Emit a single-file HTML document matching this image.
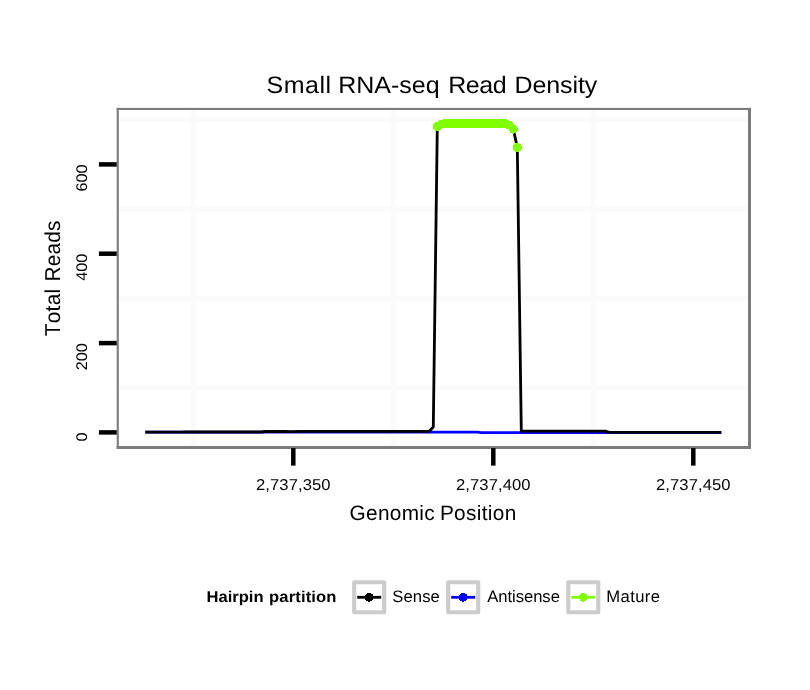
<!DOCTYPE html>
<html lang="en">
<head>
<meta charset="utf-8">
<title>Small RNA-seq Read Density</title>
<style>
html,body{margin:0;padding:0;background:#fff;}
body{width:810px;height:690px;overflow:hidden;}
svg{display:block;}
svg text{font-family:"Liberation Sans",sans-serif;fill:#000;font-kerning:none;white-space:pre;text-rendering:geometricPrecision;}
.axt text{font-size:16.6px;}
.ttl{font-size:25px;}
.axl{font-size:20.8px;}
.lgt{font-size:16.6px;font-weight:bold;}
.lgx{font-size:16.6px;}
</style>
</head>
<body>
<svg width="810" height="690" viewBox="0 0 810 690">
<rect x="0" y="0" width="810" height="690" fill="#fff"/>
<text class="ttl" transform="translate(0,92.7) scale(1,0.95)"><tspan x="266.44" letter-spacing="0.514">Small </tspan><tspan x="338.20" letter-spacing="-0.007">RNA-seq </tspan><tspan x="448.19" letter-spacing="-0.453">Read </tspan><tspan x="514.43" letter-spacing="-0.083">Density</tspan></text>
<g stroke="#fafafa" stroke-width="4.7"><line x1="118" x2="750" y1="387.7" y2="387.7"/><line x1="118" x2="750" y1="298.4" y2="298.4"/><line x1="118" x2="750" y1="209.1" y2="209.1"/><line x1="118" x2="750" y1="119.7" y2="119.7"/><line y1="109" y2="447" x1="193.3" x2="193.3"/><line y1="109" y2="447" x1="393.3" x2="393.3"/><line y1="109" y2="447" x1="593.3" x2="593.3"/></g>
<polyline points="145.3,432.2 149.3,432.2 153.3,432.2 157.3,432.2 161.3,432.2 165.3,432.2 169.3,432.2 173.3,432.2 177.3,432.2 181.3,432.2 185.3,432.2 189.3,432.2 193.3,432.2 197.3,432.2 201.3,432.2 205.3,432.2 209.3,432.2 213.3,432.2 217.3,432.2 221.3,432.2 225.3,432.2 229.3,432.2 233.3,432.2 237.3,432.2 241.3,432.2 245.3,432.2 249.3,432.2 253.3,432.2 257.3,432.2 261.3,432.2 265.3,432.2 269.3,432.2 273.3,432.2 277.3,432.2 281.3,432.2 285.3,432.2 289.3,432.2 293.3,432.2 297.3,432.2 301.3,432.2 305.3,432.2 309.3,432.2 313.3,432.2 317.3,432.2 321.3,432.2 325.3,432.2 329.3,432.2 333.3,432.2 337.3,432.2 341.3,432.2 345.3,432.2 349.3,432.2 353.3,432.2 357.3,432.2 361.3,432.2 365.3,432.2 369.3,432.2 373.3,432.2 377.3,432.2 381.3,432.2 385.3,432.2 389.3,432.2 393.3,432.2 397.3,432.2 401.3,432.2 405.3,432.2 409.3,432.2 413.3,432.2 417.3,432.2 421.3,432.2 425.3,432.2 429.3,432.2 433.3,432.2 437.3,432.2 441.3,432.2 445.3,432.2 449.3,432.2 453.3,432.2 457.3,432.2 461.3,432.2 465.3,432.2 469.3,432.2 473.3,432.2 477.3,432.2 481.3,432.6 485.3,432.6 489.3,432.6 493.3,432.6 497.3,432.6 501.3,432.6 505.3,432.6 509.3,432.6 513.3,432.6 517.3,432.6 521.3,432.6 525.3,432.6 529.3,432.6 533.3,432.6 537.3,432.6 541.3,432.6 545.3,432.6 549.3,432.6 553.3,432.6 557.3,432.6 561.3,432.6 565.3,432.6 569.3,432.6 573.3,432.6 577.3,432.6 581.3,432.6 585.3,432.6 589.3,432.6 593.3,432.6 597.3,432.6 601.3,432.6 605.3,432.6 609.3,432.6 613.3,432.6 617.3,432.6 621.3,432.6 625.3,432.6 629.3,432.6 633.3,432.6 637.3,432.6 641.3,432.6 645.3,432.6 649.3,432.6 653.3,432.6 657.3,432.6 661.3,432.6 665.3,432.6 669.3,432.6 673.3,432.6 677.3,432.6 681.3,432.6 685.3,432.6 689.3,432.6 693.3,432.6 697.3,432.6 701.3,432.6 705.3,432.6 709.3,432.6 713.3,432.6 717.3,432.6 721.3,432.6" fill="none" stroke="#0000ff" stroke-width="2.8" stroke-linejoin="round"/>
<polyline points="145.3,432.2 149.3,432.2 153.3,432.2 157.3,432.2 161.3,432.2 165.3,432.2 169.3,432.2 173.3,432.2 177.3,432.2 181.3,432.2 185.3,432.0 189.3,432.0 193.3,432.0 197.3,432.0 201.3,432.0 205.3,432.0 209.3,432.0 213.3,432.0 217.3,432.0 221.3,432.0 225.3,432.0 229.3,432.0 233.3,432.0 237.3,432.0 241.3,432.0 245.3,432.0 249.3,432.0 253.3,432.0 257.3,432.0 261.3,432.0 265.3,431.5 269.3,431.5 273.3,431.5 277.3,431.5 281.3,431.5 285.3,431.5 289.3,431.7 293.3,431.7 297.3,431.3 301.3,431.3 305.3,431.3 309.3,431.3 313.3,431.3 317.3,431.3 321.3,431.3 325.3,431.3 329.3,431.3 333.3,431.3 337.3,431.3 341.3,431.3 345.3,431.3 349.3,431.3 353.3,431.3 357.3,431.3 361.3,431.3 365.3,431.3 369.3,431.3 373.3,431.3 377.3,431.3 381.3,431.3 385.3,431.3 389.3,431.3 393.3,431.3 397.3,431.3 401.3,431.3 405.3,431.3 409.3,431.3 413.3,431.3 417.3,431.3 421.3,431.3 425.3,431.3 429.3,431.3 433.3,427.0 437.3,126.4 441.3,124.2 445.3,123.5 449.3,123.5 453.3,123.5 457.3,123.5 461.3,123.5 465.3,123.5 469.3,123.5 473.3,123.5 477.3,123.5 481.3,123.5 485.3,123.5 489.3,123.5 493.3,123.5 497.3,123.5 501.3,123.5 505.3,123.5 509.3,125.1 513.3,129.1 517.3,147.4 521.3,431.1 525.3,431.1 529.3,431.1 533.3,431.1 537.3,431.1 541.3,431.1 545.3,431.1 549.3,431.1 553.3,431.1 557.3,431.1 561.3,431.1 565.3,431.1 569.3,431.1 573.3,431.1 577.3,431.1 581.3,431.1 585.3,431.1 589.3,431.1 593.3,431.1 597.3,431.1 601.3,431.1 605.3,431.1 609.3,432.4 613.3,432.4 617.3,432.4 621.3,432.4 625.3,432.4 629.3,432.4 633.3,432.4 637.3,432.4 641.3,432.4 645.3,432.4 649.3,432.4 653.3,432.4 657.3,432.4 661.3,432.4 665.3,432.4 669.3,432.4 673.3,432.4 677.3,432.4 681.3,432.4 685.3,432.4 689.3,432.4 693.3,432.4 697.3,432.4 701.3,432.4 705.3,432.4 709.3,432.4 713.3,432.4 717.3,432.4 721.3,432.4" fill="none" stroke="#000" stroke-width="2.8" stroke-linejoin="round"/>
<g fill="#7fff00" shape-rendering="crispEdges"><circle cx="437.3" cy="126.4" r="4.5"/><circle cx="441.3" cy="124.2" r="4.5"/><circle cx="445.3" cy="123.5" r="4.5"/><circle cx="449.3" cy="123.5" r="4.5"/><circle cx="453.3" cy="123.5" r="4.5"/><circle cx="457.3" cy="123.5" r="4.5"/><circle cx="461.3" cy="123.5" r="4.5"/><circle cx="465.3" cy="123.5" r="4.5"/><circle cx="469.3" cy="123.5" r="4.5"/><circle cx="473.3" cy="123.5" r="4.5"/><circle cx="477.3" cy="123.5" r="4.5"/><circle cx="481.3" cy="123.5" r="4.5"/><circle cx="485.3" cy="123.5" r="4.5"/><circle cx="489.3" cy="123.5" r="4.5"/><circle cx="493.3" cy="123.5" r="4.5"/><circle cx="497.3" cy="123.5" r="4.5"/><circle cx="501.3" cy="123.5" r="4.5"/><circle cx="505.3" cy="123.5" r="4.5"/><circle cx="509.3" cy="125.1" r="4.5"/><circle cx="513.3" cy="129.1" r="4.5"/><circle cx="517.3" cy="147.4" r="4.5"/></g>
<g fill="#7c7c7c"><rect x="116.7" y="107.9" width="634.3" height="2.1"/><rect x="116.7" y="107.9" width="2.1" height="341.1"/><rect x="748" y="107.9" width="3" height="341.1"/><rect x="116.7" y="446" width="634.3" height="3"/></g>
<g stroke="#000" stroke-width="4.5"><line x1="98.9" x2="116.7" y1="432.4" y2="432.4"/><line x1="98.9" x2="116.7" y1="343.1" y2="343.1"/><line x1="98.9" x2="116.7" y1="253.7" y2="253.7"/><line x1="98.9" x2="116.7" y1="164.4" y2="164.4"/><line x1="293.3" x2="293.3" y1="448" y2="465.6"/><line x1="493.3" x2="493.3" y1="448" y2="465.6"/><line x1="693.3" x2="693.3" y1="448" y2="465.6"/></g>
<g class="axt"><text transform="translate(87.1,432.5) rotate(-90) scale(1,0.955)" text-anchor="end" style="font-size:16.2px">0</text><text transform="translate(87.1,343.2) rotate(-90) scale(1,0.955)" text-anchor="end" style="font-size:16.2px">200</text><text transform="translate(87.1,253.8) rotate(-90) scale(1,0.955)" text-anchor="end" style="font-size:16.2px">400</text><text transform="translate(87.1,164.5) rotate(-90) scale(1,0.955)" text-anchor="end" style="font-size:16.2px">600</text><text transform="translate(293.3,490) scale(1,0.95)" text-anchor="middle" letter-spacing="0.1">2,737,350</text><text transform="translate(493.3,490) scale(1,0.95)" text-anchor="middle" letter-spacing="0.1">2,737,400</text><text transform="translate(693.3,490) scale(1,0.95)" text-anchor="middle" letter-spacing="0.1">2,737,450</text></g>
<text class="axl" transform="translate(0,519.6)"><tspan x="349.56" letter-spacing="0.316">Genomic </tspan><tspan x="439.92" letter-spacing="0.335">Position</tspan></text>
<text class="axl" transform="translate(60.2,0) rotate(-90) scale(1,1.035)"><tspan x="-336.37" letter-spacing="0.328">Total </tspan><tspan x="-281.55" letter-spacing="0.189">Reads</tspan></text>
<g class="lg">
<text class="lgt" transform="translate(0,602.4) scale(1,0.94)"><tspan x="206.50" letter-spacing="-0.018">Hairpin </tspan><tspan x="269.02" letter-spacing="0.136">partition</tspan></text>
<rect x="354.2" y="582.2" width="30" height="30" fill="#fff" stroke="#ccc" stroke-width="4.1" stroke-linejoin="round"/><line x1="357.2" x2="381.2" y1="597.3" y2="597.3" stroke="#000" stroke-width="2.8"/><circle cx="369.2" cy="597.3" r="4.4" fill="#000" shape-rendering="crispEdges"/>
<text class="lgx" transform="translate(0,602.0)"><tspan x="392.36" letter-spacing="0.088">Sense</tspan></text>
<rect x="448.2" y="582.2" width="30" height="30" fill="#fff" stroke="#ccc" stroke-width="4.1" stroke-linejoin="round"/><line x1="451.2" x2="475.2" y1="597.3" y2="597.3" stroke="#0000ff" stroke-width="2.8"/><circle cx="463.2" cy="597.3" r="4.4" fill="#0000ff" shape-rendering="crispEdges"/>
<text class="lgx" transform="translate(0,602.0)"><tspan x="487.18" letter-spacing="-0.021">Antisense</tspan></text>
<rect x="568.3" y="582.2" width="30" height="30" fill="#fff" stroke="#ccc" stroke-width="4.1" stroke-linejoin="round"/><line x1="571.3" x2="595.3" y1="597.3" y2="597.3" stroke="#7fff00" stroke-width="2.8"/><circle cx="583.3" cy="597.3" r="4.4" fill="#7fff00" shape-rendering="crispEdges"/>
<text class="lgx" transform="translate(0,602.0)"><tspan x="606.26" letter-spacing="0.412">Mature</tspan></text>
</g>
</svg>
</body>
</html>
